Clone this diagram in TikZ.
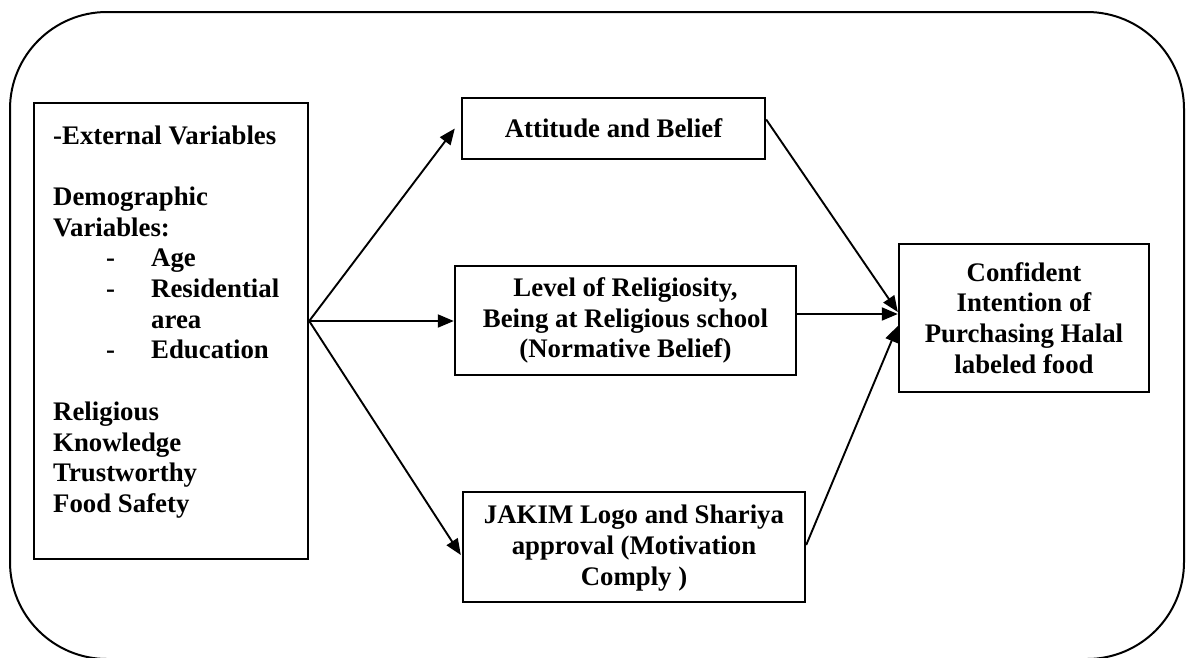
\documentclass[tikz,border=0pt]{standalone}
\usepackage{fontspec}
\setmainfont{Liberation Serif}
\usetikzlibrary{arrows.meta,calc}

% one line of the demographic list: dash, then the entry
\newcommand{\extitem}[1]{\hbox{\makebox[98pt][l]{\hspace*{53pt}-}#1}}
% continuation line of a list entry
\newcommand{\extcont}[1]{\hbox{\hspace*{98pt}#1}}

\begin{document}
\begin{tikzpicture}[x=1pt,y=-1pt,
  txt/.style={font=\bfseries\fontsize{26.8}{30.8}\selectfont, align=center, inner sep=0pt},
  box/.style={draw, line width=2.4pt, inner sep=0pt},
  link/.style={line width=1.9pt},
  arr/.style={link, -{Triangle[length=16pt,width=13pt]}},
]
\useasboundingbox (0,0) rectangle (1186,657);

% surrounding frame
\draw[line width=2pt, rounded corners=97pt] (10,12) rectangle (1184,659);

% external variables
\node[box, minimum width=274pt, minimum height=456pt] (ext) at (171,331) {};
\node[anchor=base west, inner sep=0pt, font=\bfseries\fontsize{26.8}{30.7}\selectfont] (extlist) at (53,144)
  {\vtop{\hbox{-External Variables}
         \hbox{}
         \hbox{Demographic}
         \hbox{Variables:}
         \extitem{Age}
         \extitem{Residential}
         \extcont{area}
         \extitem{Education}
         \hbox{}
         \hbox{Religious}
         \hbox{Knowledge}
         \hbox{Trustworthy}
         \hbox{Food Safety}}};
\coordinate (fork) at ($(ext.east)+(0,-10)$);

% mediating factors
\node[box, txt, minimum width=303pt, minimum height=61pt] (att) at (613.5,128.5) {Attitude and Belief};
\node[box, txt, minimum width=341pt, minimum height=109pt] (lev) at (625.5,320.5)
  {Level of Religiosity,\\Being at Religious school\\(Normative Belief)};
\node[box, minimum width=342pt, minimum height=110pt] (jak) at (634,547) {};
\begin{scope}
  \clip (jak.north west) rectangle ($(jak.south east)+(0,-13)$);
  \node[txt] (jaktext) at ($(jak.center)+(0,1)$) {JAKIM Logo and Shariya\\approval (Motivation\\Comply )};
\end{scope}

% outcome
\node[box, txt, minimum width=250pt, minimum height=148pt] (conf) at (1024,318)
  {Confident\\Intention of\\Purchasing Halal\\labeled food};

% paths from the external variables
\draw[arr] (fork) -- ($(att.west)+(-6,0)$);
\draw[arr] (fork) -- (fork -| lev.west);
\draw[arr] (fork) -- ($(jak.west)+(-1,8)$);

% paths into the outcome
\coordinate (cin) at ($(conf.west)+(0,-4)$);
\draw[arr] ($(att.east)+(0,-9)$) -- ($(conf.west)+(0,-6)$);
\draw[arr] (lev.east |- cin) -- (cin);
\draw[arr] ($(jak.east)+(0,-2)$) -- ($(conf.west)+(0,8)$);
\end{tikzpicture}
\end{document}
